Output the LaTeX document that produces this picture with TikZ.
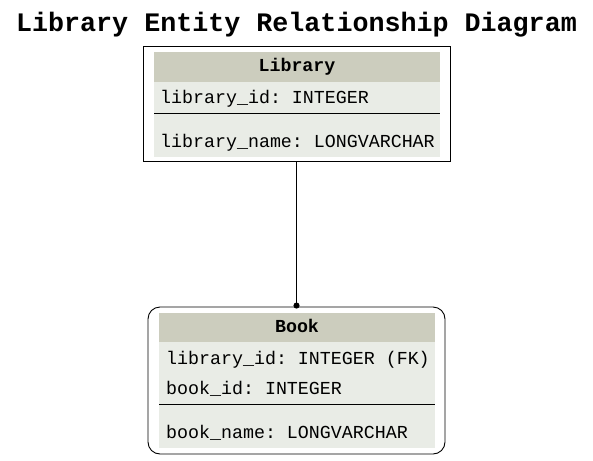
\documentclass[tikz,border=0pt]{standalone}
\usepackage{fontspec}
\setmonofont{Liberation Mono}
\usepackage{tikz}
\usetikzlibrary{arrows.meta}
\definecolor{headfill}{RGB}{204,205,190}
\definecolor{rowfill}{RGB}{233,236,230}

\begin{document}
\begin{tikzpicture}
      [x=1pt, y=-1pt,
        frame/.style={draw, line width=0.9pt, inner sep=0pt},
        field/.style={anchor=base west, inner sep=0pt,
          font=\ttfamily\fontsize{18.3}{20}\selectfont},
        header/.style={anchor=base, inner sep=0pt,
          font=\ttfamily\bfseries\fontsize{18.3}{20}\selectfont},
        rule/.style={line width=1pt}]
      \useasboundingbox (0,0) rectangle (593,460);
      \node[anchor=base, inner sep=0pt,
        font=\ttfamily\bfseries\fontsize{26.7}{30}\selectfont]
        (title) at (296.5,32) {Library Entity Relationship Diagram};
      % Library table
      \node[frame, minimum width=307pt, minimum height=115pt]
        (library) at (296.5,103.5) {};
      \fill[headfill] (154,52) rectangle (440,82);
      \fill[rowfill] (154,82) rectangle (440,157);
      \draw[rule] (154,113) -- (440,113);
      \node[header] (libhead) at (297,71) {Library};
      \node[field] (libid) at (160,103) {library\_id: INTEGER};
      \node[field] (libname) at (160,147) {library\_name: LONGVARCHAR};
      % Book table
      \node[frame, rounded corners=12pt, minimum width=297pt, minimum height=147pt]
        (book) at (296.5,380.5) {};
      \fill[headfill] (159,313) rectangle (435,342);
      \fill[rowfill] (159,342) rectangle (435,448);
      \draw[rule] (159,404) -- (435,404);
      \node[header] (bookhead) at (297,332) {Book};
      \node[field] (bookfk) at (166,364) {library\_id: INTEGER (FK)};
      \node[field] (bookid) at (166,394) {book\_id: INTEGER};
      \node[field] (bookname) at (166,438) {book\_name: LONGVARCHAR};
      \draw[line width=0.9pt, -{Circle[length=6pt]}] (library.south) -- ([yshift=-2pt]book.north);
    \end{tikzpicture}
\end{document}
